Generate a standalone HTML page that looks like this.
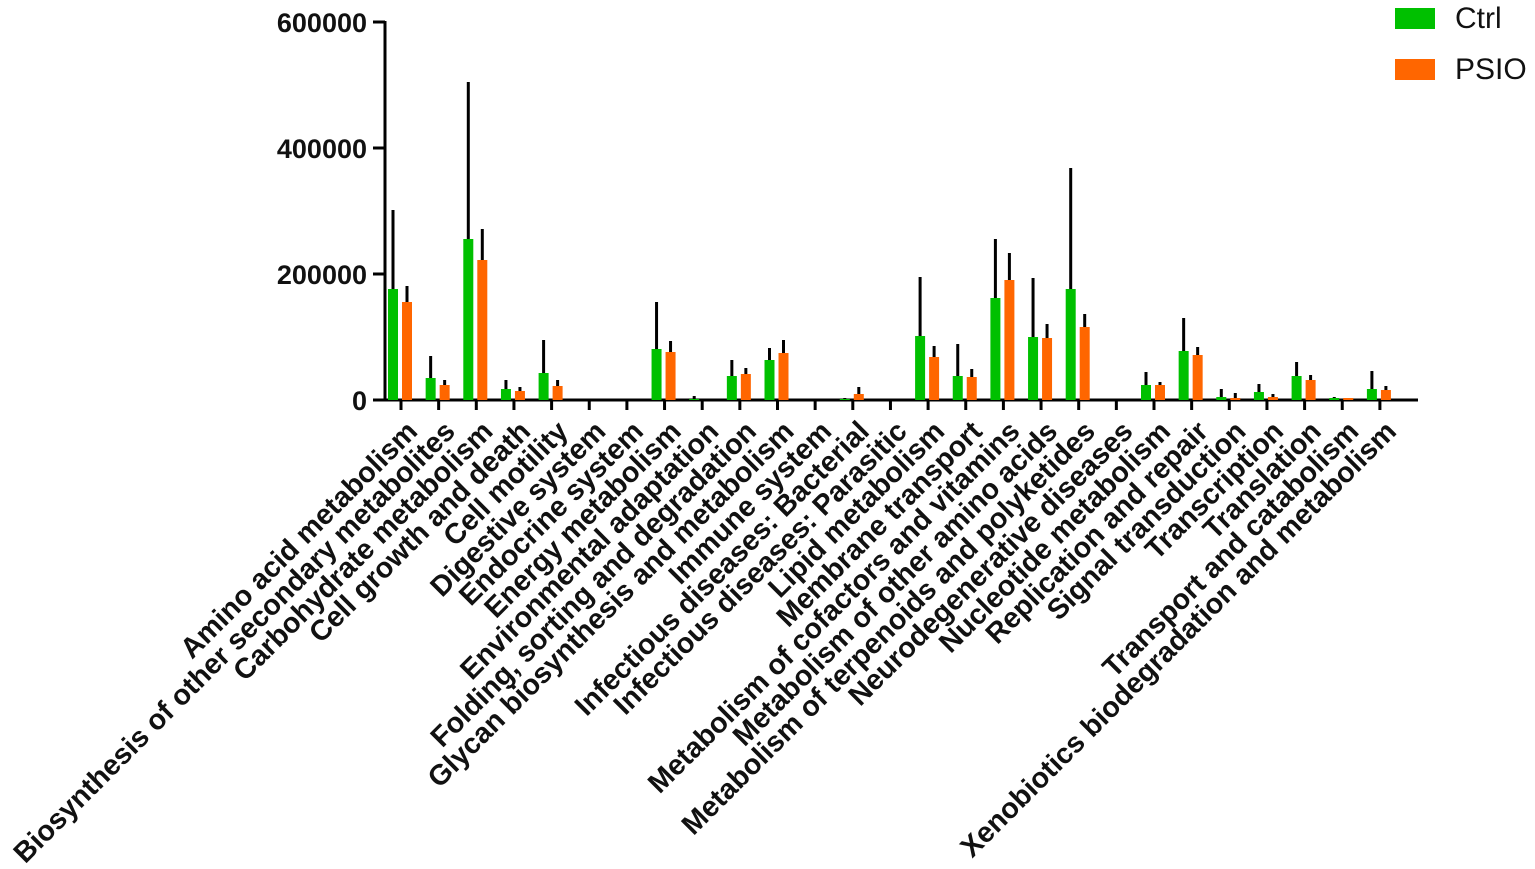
<!DOCTYPE html>
<html><head><meta charset="utf-8"><style>html,body{margin:0;padding:0;background:#fff}svg{display:block}</style></head>
<body>
<svg id="s" width="1535" height="869" xmlns="http://www.w3.org/2000/svg" font-family="Liberation Sans, Arial, sans-serif">
<g font-weight="bold" font-size="27" text-anchor="end" fill="#111">
<text x="367" y="32">600000</text>
<text x="367" y="158">400000</text>
<text x="367" y="284">200000</text>
<text x="367" y="410">0</text>
</g>
<g stroke="#000" stroke-width="3">
<line x1="385" y1="21" x2="385" y2="401"/>
<line x1="373" y1="22" x2="385" y2="22"/>
<line x1="373" y1="148" x2="385" y2="148"/>
<line x1="373" y1="274" x2="385" y2="274"/>
<line x1="373" y1="400" x2="385" y2="400"/>
<line x1="384" y1="400" x2="1418" y2="400"/>
</g>
<g id="bars"></g>
<rect x="1395" y="8" width="40" height="21" fill="#00c000"/>
<rect x="1395" y="59" width="40" height="21" fill="#ff6600"/>
<text x="1455" y="28" font-size="30" fill="#111">Ctrl</text>
<text x="1455" y="79" font-size="30" fill="#111">PSIO</text>
</svg>
<script>
var names=["Amino acid metabolism","Biosynthesis of other secondary metabolites","Carbohydrate metabolism","Cell growth and death","Cell motility","Digestive system","Endocrine system","Energy metabolism","Environmental adaptation","Folding, sorting and degradation","Glycan biosynthesis and metabolism","Immune system","Infectious diseases: Bacterial","Infectious diseases: Parasitic","Lipid metabolism","Membrane transport","Metabolism of cofactors and vitamins","Metabolism of other amino acids","Metabolism of terpenoids and polyketides","Neurodegenerative diseases","Nucleotide metabolism","Replication and repair","Signal transduction","Transcription","Translation","Transport and catabolism","Xenobiotics biodegradation and metabolism"];
var d=[[289,210,302,286],[378,356,385,380],[239,82,260,229],[389,380,391,387],[373,340,386,380],[400,400,400,400],[400,399,400,400],[349,302,352,341],[399,396,400,398],[376,360,374,368],[360,348,353,340],[400,400,400,400],[399,398,394,387],[400,400,400,400],[336,277,357,346],[376,344,377,369],[298,239,280,253],[337,278,338,324],[289,168,327,314],[400,400,400,400],[385,372,385,382],[351,318,355,347],[397,389,398,393],[392,384,397,394],[376,362,380,375],[398,397,398,398],[389,371,390,386]];
var s="";
for(var i=0;i<27;i++){
 var t=401+i*37.65, v=d[i];
 s+='<line x1="'+t+'" y1="400" x2="'+t+'" y2="410" stroke="#000" stroke-width="3"/>';
 if(v[0]<400){s+='<line x1="'+(t-8)+'" y1="'+v[0]+'" x2="'+(t-8)+'" y2="'+v[1]+'" stroke="#000" stroke-width="3"/>';
 s+='<rect x="'+(t-13)+'" y="'+v[0]+'" width="10" height="'+(400-v[0])+'" fill="#00c000"/>';}
 if(v[2]<400){s+='<line x1="'+(t+6)+'" y1="'+v[2]+'" x2="'+(t+6)+'" y2="'+v[3]+'" stroke="#000" stroke-width="3"/>';
 s+='<rect x="'+(t+1)+'" y="'+v[2]+'" width="10" height="'+(400-v[2])+'" fill="#ff6600"/>';}
 s+='<text transform="translate('+(t+18)+',433) rotate(-45)" text-anchor="end" font-weight="bold" font-size="28.6" fill="#111">'+names[i]+'</text>';
}
document.getElementById("bars").innerHTML=s;
</script>
</body></html>
